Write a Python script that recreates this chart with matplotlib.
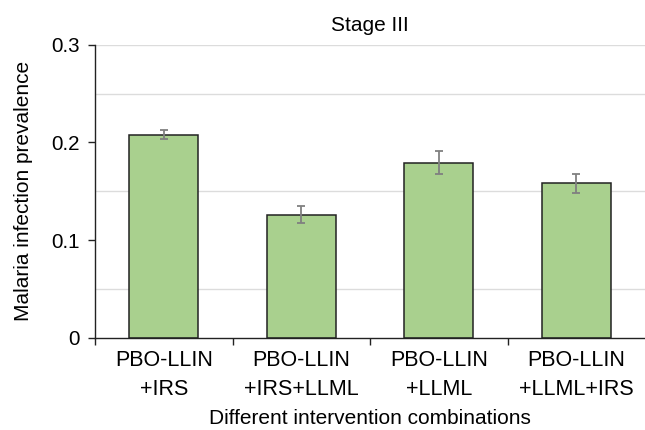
import numpy as np
import matplotlib.pyplot as plt

plt.rcParams['font.family'] = ['Liberation Sans', 'DejaVu Sans']

categories = ['PBO-LLIN\n+IRS', 'PBO-LLIN\n+IRS+LLML', 'PBO-LLIN\n+LLML', 'PBO-LLIN\n+LLML+IRS']
prevalence = [0.208, 0.126, 0.179, 0.158]
err = [0.0045, 0.009, 0.0118, 0.010]
yticks = [0, 0.1, 0.2, 0.3]
ytick_labels = ['0', '0.1', '0.2', '0.3']
grid_levels = [0.05, 0.15, 0.25, 0.3]

fig = plt.figure(figsize=(6.45, 4.3), dpi=100)
ax = fig.add_axes([95 / 645, 1 - 337.7 / 430, 550 / 645, 293 / 430])

x = np.arange(len(categories))
for g in grid_levels:
    ax.axhline(g, color='#dcdcdc', linewidth=1, zorder=0)

ax.bar(x, prevalence, width=0.505, color='#a9d08e', edgecolor='#222222',
       linewidth=1.1, zorder=2)
ax.errorbar(x, prevalence, yerr=err, fmt='none', ecolor='#808080',
            elinewidth=1.3, capsize=3, capthick=1.3, zorder=3)

ax.set_xlim(-0.5, len(categories) - 0.5)
ax.set_ylim(0, 0.3)
ax.set_yticks(yticks)
ax.set_yticklabels(ytick_labels, fontsize=14.8)

ax.set_xticks(x)
ax.set_xticklabels(categories, fontsize=15.5, linespacing=1.5)
ax.tick_params(axis='x', length=0, pad=9)
ax.set_xticks(np.arange(len(categories)) - 0.5, minor=True)
ax.tick_params(axis='x', which='minor', length=5, width=1, color='#222222')
ax.tick_params(axis='y', length=5, width=1, color='#222222', pad=6)

for s in ['top', 'right']:
    ax.spines[s].set_visible(False)
for s in ['left', 'bottom']:
    ax.spines[s].set_color('#222222')
    ax.spines[s].set_linewidth(1)

ax.set_title('Stage III', fontsize=15, pad=10)
ax.set_ylabel('Malaria infection prevalence', fontsize=15, labelpad=13)
ax.set_xlabel('Different intervention combinations', fontsize=15, labelpad=6)

fig.savefig('out.png', dpi=100)
